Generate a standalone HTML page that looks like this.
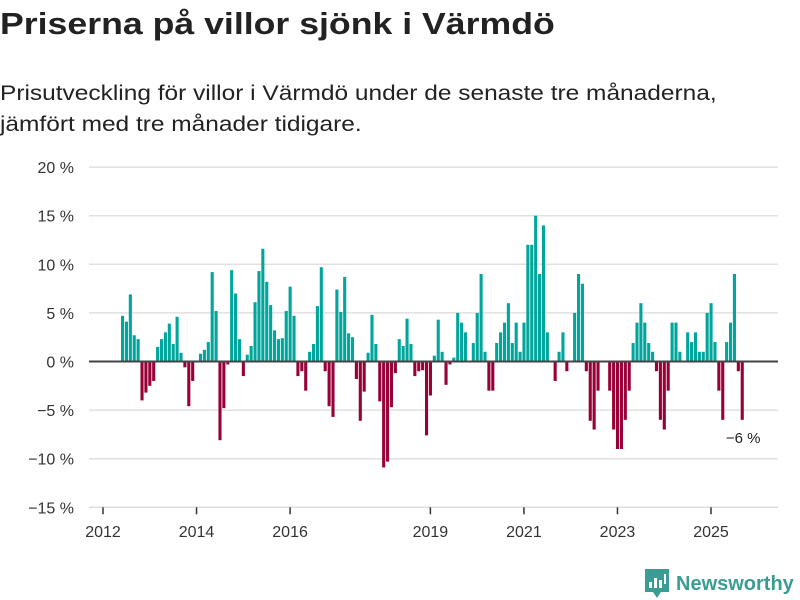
<!DOCTYPE html>
<html><head><meta charset="utf-8"><style>
body{margin:0;width:800px;height:600px;background:#fff;font-family:"Liberation Sans","DejaVu Sans",sans-serif;color:#222;overflow:hidden;position:relative}
h1{position:absolute;left:0;top:6px;margin:0;font-size:31px;font-weight:bold;transform:scaleX(1.15);transform-origin:0 0;white-space:nowrap}
.sub{position:absolute;left:0;top:78px;margin:0;font-size:21px;line-height:31px;color:#222;transform:scaleX(1.165);transform-origin:0 0;white-space:nowrap}
svg{position:absolute;left:0;top:0}
</style></head><body>
<h1>Priserna på villor sjönk i Värmdö</h1>
<p class="sub">Prisutveckling för villor i Värmdö under de senaste tre månaderna,<br>jämfört med tre månader tidigare.</p>
<svg id="chart" width="800" height="600"></svg>
<script>
const startYear = 2012;
const startMonth = 5;
const values = [4.7,4.1,6.9,2.7,2.3,-4.0,-3.2,-2.5,-2.0,1.5,2.3,3.0,3.9,1.8,4.6,0.9,-0.6,-4.6,-2.0,0,0.8,1.2,2.0,9.2,5.2,-8.1,-4.8,-0.3,9.4,7.0,2.3,-1.5,0.7,1.6,6.1,9.3,11.6,8.2,5.8,3.2,2.3,2.4,5.2,7.7,4.7,-1.5,-1.0,-3.0,1.0,1.8,5.7,9.7,
-1.0,-4.6,-5.7,7.4,5.1,8.7,2.9,2.5,-1.8,-6.1,-3.1,0.9,4.8,1.8,-4.1,-10.9,-10.3,-4.7,-1.2,2.3,1.6,4.4,1.8,-1.5,-1.0,-0.9,-7.6,-3.5,0.6,4.3,1.0,-2.4,-0.3,0.4,5.0,4.0,3.0,0,1.9,5.0,9.0,1.0,-3.0,-3.0,1.9,3.0,4.0,6.0,1.9,4.0,1.0,4.0,12.0,12.0,15.0,9.0,14.0,3.0,
0,-2.0,1.0,3.0,-1.0,0,5.0,9.0,8.0,-1.0,-6.1,-7.0,-3.0,0,0,-3.0,-7.0,-9.0,-9.0,-6.0,-3.0,1.9,4.0,6.0,4.0,1.9,1.0,-1.0,-6.0,-7.0,-3.0,4.0,4.0,1.0,0,3.0,2.0,3.0,1.0,1.0,5.0,6.0,2.0,-3.0,-6.0,2.0,4.0,9.0,-1.0,-6.0];
const yTicks = [20,15,10,5,0,-5,-10,-15];
const xTicks = [2012,2014,2016,2019,2021,2023,2025];
const lastLabel = "−6 %";

const NS="http://www.w3.org/2000/svg";
const svg=document.getElementById('chart');
const X0=103, PX_YEAR=46.77;
function x(yearFrac){return X0+(yearFrac-2012)*PX_YEAR;}
function y(v){return 361.5-v*9.72;}
function mk(tag,attrs){const e=document.createElementNS(NS,tag);for(const k in attrs)e.setAttribute(k,attrs[k]);svg.appendChild(e);return e;}

yTicks.forEach(t=>{
  const g=mk('line',{x1:89,x2:778,y1:y(t),y2:y(t),stroke:'#e0e0e0','stroke-width':1.5});
  
  
  const tx=mk('text',{x:74,y:y(t)+6,'text-anchor':'end','font-size':16,fill:'#333'});
  tx.textContent=(t<0?'−'+(-t):t)+' %';
  
  
});
const ax=mk('line',{x1:89,x2:778,y1:y(-15),y2:y(-15),stroke:'#ddd','stroke-width':1.5});


xTicks.forEach(t=>{
  const tk=mk('line',{x1:x(t),x2:x(t),y1:y(-15),y2:y(-15)+7,stroke:'#333','stroke-width':1.5});
  
  
  const tx=mk('text',{x:x(t),y:537,'text-anchor':'middle','font-size':16,fill:'#333'});
  tx.textContent=t;
  
  
});
const step=PX_YEAR/12;
values.forEach((v,i)=>{
  const m=startMonth+i;
  const xs=x(startYear+m/12)-1.5;
  const r=mk('rect',{x:xs,y:Math.min(y(v),y(0)),width:step-0.8,height:Math.abs(y(v)-y(0)),fill:v>=0?'#00a59b':'#980038'});
  
  
});
const zl=mk('line',{x1:89,x2:778,y1:y(0),y2:y(0),stroke:'#444','stroke-width':2});


const lastI=values.length-1;
const lbl=mk('text',{x:x(startYear+(startMonth+lastI)/12)+1,y:y(values[lastI])+23,'text-anchor':'middle','font-size':15,fill:'#222'});
lbl.textContent=lastLabel;


</script>
<div style="position:absolute;left:645px;top:569px;display:flex;align-items:center">
<svg width="24" height="30" viewBox="0 0 24 30" style="position:static"><path d="M0 0h24v23h-8l-4 6-4-6H0z" fill="#3a9c93"/><rect x="4" y="13" width="3" height="6" fill="#fff"/><rect x="9" y="9" width="3" height="10" fill="#fff"/><rect x="14" y="11" width="3" height="8" fill="#fff"/><rect x="19" y="5" width="2" height="10" fill="#fff"/></svg>
<span style="margin-left:7px;font-size:20px;font-weight:bold;color:#3a9c93;white-space:nowrap">Newsworthy</span></div>
</body></html>
